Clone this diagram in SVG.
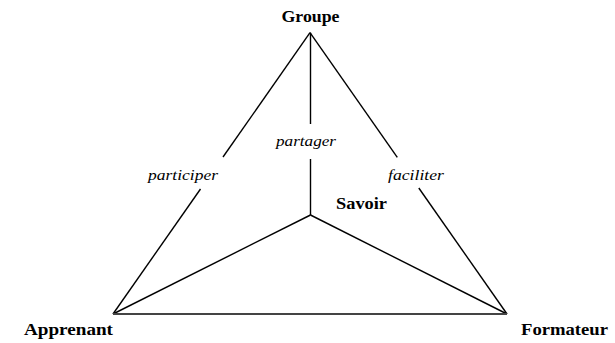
<svg xmlns="http://www.w3.org/2000/svg" width="615" height="343" viewBox="0 0 615 343">
  <style>
    .edge { stroke: #000; stroke-width: 1.4; fill: none; stroke-linecap: butt; }
    .base { stroke: #444; stroke-width: 2.2; fill: none; }
    .node { font-family: "Liberation Serif", "Times New Roman", serif; font-weight: bold; font-size: 17px; fill: #000; }
    .lbl { font-family: "Liberation Serif", "Times New Roman", serif; font-style: italic; font-size: 15px; fill: #000; }
  </style>
  <rect width="615" height="343" fill="#fff"/>

  <g id="connectors">
    <!-- Groupe - Apprenant, interrupted by its label -->
    <line class="edge" x1="310" y1="32.7" x2="223" y2="157"/>
    <line class="edge" x1="200.5" y1="189" x2="113" y2="314"/>
    <!-- Groupe - Formateur -->
    <line class="edge" x1="310" y1="32.7" x2="397.3" y2="157.3"/>
    <line class="edge" x1="418.8" y1="188" x2="507" y2="314"/>
    <!-- Groupe - Savoir -->
    <line class="edge" x1="310.5" y1="32.7" x2="310.5" y2="124"/>
    <line class="edge" x1="310.5" y1="159" x2="310.5" y2="215"/>
    <!-- Savoir - Apprenant / Formateur -->
    <line class="edge" x1="310.5" y1="215" x2="113" y2="314"/>
    <line class="edge" x1="310.5" y1="215" x2="507" y2="314"/>
    <!-- Apprenant - Formateur -->
    <line class="base" x1="113" y1="314" x2="507" y2="314"/>

    <text class="lbl" x="183" y="180" text-anchor="middle" textLength="70" lengthAdjust="spacingAndGlyphs">participer</text>
    <text class="lbl" x="416" y="180" text-anchor="middle" textLength="56" lengthAdjust="spacingAndGlyphs">faciliter</text>
    <text class="lbl" x="306" y="146" text-anchor="middle" textLength="60" lengthAdjust="spacingAndGlyphs">partager</text>
  </g>

  <g id="groupe">
    <text class="node" x="310.5" y="22" text-anchor="middle" textLength="58" lengthAdjust="spacingAndGlyphs">Groupe</text>
  </g>
  <g id="savoir">
    <text class="node" x="336" y="209" textLength="51" lengthAdjust="spacingAndGlyphs">Savoir</text>
  </g>
  <g id="apprenant">
    <text class="node" x="24" y="335" textLength="89" lengthAdjust="spacingAndGlyphs">Apprenant</text>
  </g>
  <g id="formateur">
    <text class="node" x="521" y="335" textLength="87" lengthAdjust="spacingAndGlyphs">Formateur</text>
  </g>
</svg>
